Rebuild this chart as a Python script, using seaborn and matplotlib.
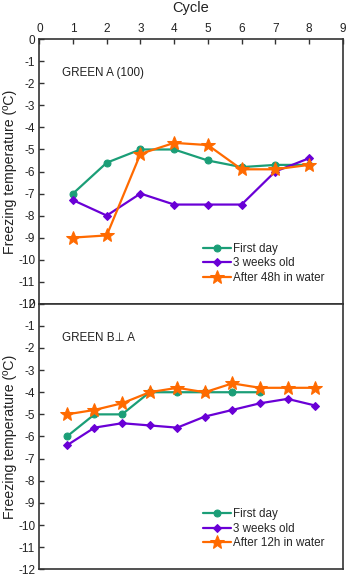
import numpy as np
import pandas as pd
import matplotlib
matplotlib.use("Agg")
import matplotlib.pyplot as plt
import seaborn as sns

# ---- data ----
top_cycles = [1, 2, 3, 4, 5, 6, 7, 8]
top_first_day = [-7.0, -5.6, -5.0, -5.0, -5.5, -5.8, -5.7, -5.7]
top_three_weeks = [-7.3, -8.0, -7.0, -7.5, -7.5, -7.5, -6.0, -5.4]
top_after_water = [-9.0, -8.9, -5.2, -4.7, -4.8, -5.9, -5.9, -5.7]

bot_cycles_first = [1, 2, 3, 4, 5, 6, 7, 8]
bot_first_day = [-6.0, -5.0, -5.0, -4.0, -4.0, -4.0, -4.0, -4.0]
bot_cycles = [1, 2, 3, 4, 5, 6, 7, 8, 9, 10]
bot_three_weeks = [-6.4, -5.6, -5.4, -5.5, -5.6, -5.1, -4.8, -4.5, -4.3, -4.6]
bot_after_water = [-5.0, -4.8, -4.5, -4.0, -3.8, -4.0, -3.6, -3.8, -3.8, -3.8]

top_labels = ["First day", "3 weeks old", "After 48h in water"]
bot_labels = ["First day", "3 weeks old", "After 12h in water"]
top_title = "GREEN A (100)"
bot_title = "GREEN B\u22a5 A"
x_ticks_top = list(range(0, 10))
y_ticks = list(range(0, -13, -1))

colors = ["#1b9e77", "#6a00d6", "#ff6a00"]
markers = ["o", "D", "*"]
msizes = [5, 4.5, 10]

sns.set_theme(style="white")
plt.rcParams["font.family"] = ["Liberation Sans", "DejaVu Sans"]
plt.rcParams["axes.unicode_minus"] = False

fig = plt.figure(figsize=(3.47, 5.74), dpi=100)
ax1 = fig.add_axes([0.1133, 0.4709, 0.8743, 0.4606])
ax2 = fig.add_axes([0.1133, 0.0082, 0.8743, 0.4627])

def make_df(series_list):
    rows = []
    for label, xs, ys in series_list:
        for x, y in zip(xs, ys):
            rows.append({"cycle": x, "temp": y, "series": label})
    return pd.DataFrame(rows)

df_top = make_df([(top_labels[0], top_cycles, top_first_day),
                  (top_labels[1], top_cycles, top_three_weeks),
                  (top_labels[2], top_cycles, top_after_water)])
df_bot = make_df([(bot_labels[0], bot_cycles_first, bot_first_day),
                  (bot_labels[1], bot_cycles, bot_three_weeks),
                  (bot_labels[2], bot_cycles, bot_after_water)])

def draw(ax, df, labels, anchor_y):
    for i, lab in enumerate(labels):
        sub = df[df["series"] == lab]
        sns.lineplot(data=sub, x="cycle", y="temp", ax=ax, color=colors[i],
                     marker=markers[i], markersize=msizes[i],
                     markeredgecolor=colors[i], linewidth=1.6, label=lab,
                     sort=False)
    ax.legend(loc="lower right", frameon=False, fontsize=8.4,
              handlelength=2.4, handletextpad=0.15, labelspacing=0.22,
              borderaxespad=0.0, borderpad=0.0,
              bbox_to_anchor=(0.94, anchor_y))

draw(ax1, df_top, top_labels, 0.075)
draw(ax2, df_bot, bot_labels, 0.075)

for ax in (ax1, ax2):
    ax.set_ylim(-12, 0)
    ax.set_yticks(y_ticks)
    ax.set_yticklabels([str(t) for t in y_ticks], fontsize=8.5, color="#222222")
    ax.tick_params(axis="y", direction="in", length=3.5, width=1, color="#333333",
                   left=True, pad=3)
    for sp in ax.spines.values():
        sp.set_color("#333333")
        sp.set_linewidth(1.2)
    ax.set_ylabel("Freezing temperature (ºC)", fontsize=10.2, color="#222222")
    ax.yaxis.set_label_coords(-0.073, 0.5)

ax1.set_xlim(0, 9)
ax1.set_xticks(x_ticks_top)
ax1.set_xticklabels([str(t) for t in x_ticks_top], fontsize=8.5, color="#222222")
ax1.xaxis.set_ticks_position("top")
ax1.xaxis.set_label_position("top")
ax1.tick_params(axis="x", direction="in", length=3.5, width=1, color="#333333",
                top=True, bottom=False, pad=3)
ax1.set_xlabel("Cycle", fontsize=10.5, color="#222222")
ax1.xaxis.set_label_coords(0.5, 1.12)
ax1.xaxis.label.set_va("center")

ax2.set_xlim(0, 11)
ax2.set_xticks([])
ax2.set_xlabel("")

ax1.text(0.074, 0.872, top_title, transform=ax1.transAxes, fontsize=8.4,
         color="#222222", va="center", ha="left")
ax2.text(0.074, 0.87, bot_title, transform=ax2.transAxes, fontsize=8.4,
         color="#222222", va="center", ha="left")

fig.savefig("out.png", dpi=100)
